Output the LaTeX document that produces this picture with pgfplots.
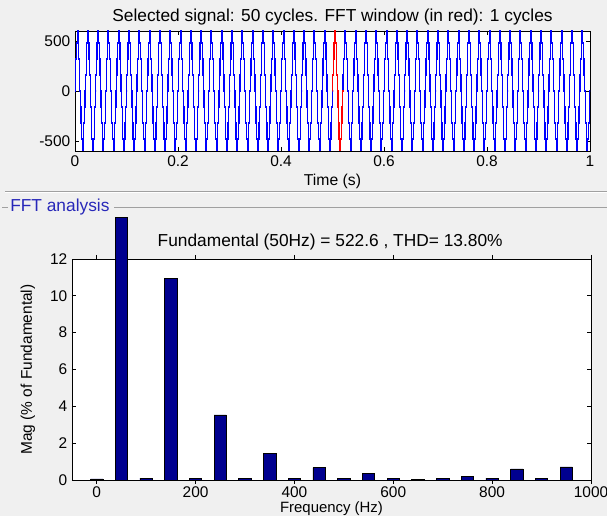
\documentclass[border=0pt]{standalone}
\usepackage{pgfplots}
\pgfplotsset{compat=1.18}
\usepackage{pgfplotstable}
\usepackage{fontspec}
\setmainfont{Liberation Sans}
\definecolor{figbg}{HTML}{F0F0F0}
\definecolor{barnavy}{RGB}{0,0,143}
\definecolor{paneltitle}{RGB}{40,40,185}
\definecolor{sepgray}{HTML}{A0A0A0}

% one period of the stepped signal (time in s, value)
\pgfplotstableread{
t v
0.000000 0
0.000556 160
0.001556 320
0.002778 480
0.004222 640
0.005778 480
0.007222 320
0.008444 160
0.009444 0
0.010556 -160
0.011556 -320
0.012778 -480
0.014222 -640
0.015778 -480
0.017222 -320
0.018444 -160
0.019444 0
0.020000 0
}\cyc

\pgfplotstableread{
f m
0 0.06
50 100
100 0.1
150 10.95
200 0.1
250 3.53
300 0.1
350 1.45
400 0.1
450 0.67
500 0.1
550 0.37
600 0.1
650 0.04
700 0.1
750 0.19
800 0.1
850 0.6
900 0.1
950 0.71
}\fft

\begin{document}
\begin{tikzpicture}
\clip (0,0) rectangle (455.25pt,387pt);
\fill[figbg] (0,0) rectangle (455.25pt,387pt);
% separators
\draw[sepgray, line width=0.75pt] (3.75pt,243pt) -- (455.25pt,243pt);
\draw[white, line width=0.75pt] (3.75pt,242.25pt) -- (455.25pt,242.25pt);
\draw[sepgray, line width=0.75pt] (1.5pt,231pt) -- (6pt,231pt);
\draw[sepgray, line width=0.75pt] (85.5pt,231pt) -- (455.25pt,231pt);
\node[anchor=west, inner sep=0pt, text=paneltitle, font=\fontsize{13}{15}\selectfont] at (7.5pt,231.5pt) {FFT analysis};

\pgfplotsset{
  mystyle/.style={
    scale only axis,
    axis background/.style={fill=white},
    tick align=inside,
    tick pos=both,
    major tick length=3pt,
    every tick/.style={black, line width=0.5pt},
    axis line style={black, line width=0.6pt},
    /pgf/number format/assume math mode=true,
    /pgf/number format/1000 sep={},
    scaled ticks=false,
    tick label style={font=\fontsize{11.6}{13}\selectfont},
    every axis x label/.style={at={(axis description cs:0.5,0)}, yshift=-22.5pt, anchor=center, font=\fontsize{11.8}{13}\selectfont},
    every axis title/.style={at={(axis description cs:0.5,1)}, yshift=12.5pt, anchor=center, font=\fontsize{13}{15}\selectfont},
  }
}

\begin{axis}[mystyle,
  at={(56.25pt,273.75pt)}, anchor=south west,
  width=386.25pt, height=90pt,
  xmin=0, xmax=1, ymin=-600, ymax=600,
  xtick={0,0.2,0.4,0.6,0.8,1},
  xticklabels={0,0.2,0.4,0.6,0.8,1},
  ytick={-500,0,500},
  xlabel={Time (s)},
  title={Selected signal: 50 cycles. FFT window (in red): 1 cycles},
  every axis title/.append style={yshift=-2pt},
]
\pgfplotsinvokeforeach{0,...,49}{
  \addplot[const plot mark left, blue, line width=0.9pt, no marks] table[x expr=\thisrow{t}+0.02*#1, y=v]{\cyc};
}
\addplot[const plot mark left, red, line width=0.9pt, no marks] table[x expr=\thisrow{t}+0.5, y=v]{\cyc};
\end{axis}

\begin{axis}[mystyle,
  at={(54pt,27pt)}, anchor=south west,
  width=389.25pt, height=165.75pt,
  xmin=-50, xmax=1000, ymin=0, ymax=12,
  xtick={0,200,400,600,800,1000},
  ytick={0,2,4,6,8,10,12},
  xticklabel style={yshift=1.5pt},
  clip=false,
  ybar, bar width=25,
  xlabel={Frequency (Hz)},
  every axis x label/.append style={yshift=1pt, font=\fontsize{11.2}{13}\selectfont},
  ylabel={Mag (\% of Fundamental)},
  every axis y label/.style={at={(axis description cs:0,0.5)}, xshift=-33pt, rotate=90, anchor=center, font=\fontsize{11.6}{13}\selectfont},
  title={Fundamental (50Hz) = 522.6 , THD= 13.80\%},
  every axis title/.append style={xshift=-1pt},
]
\addplot[fill=barnavy, draw=black, line width=0.5pt, restrict y to domain*=0:14.28] table[x=f, y=m]{\fft};
\end{axis}
\end{tikzpicture}
\end{document}
